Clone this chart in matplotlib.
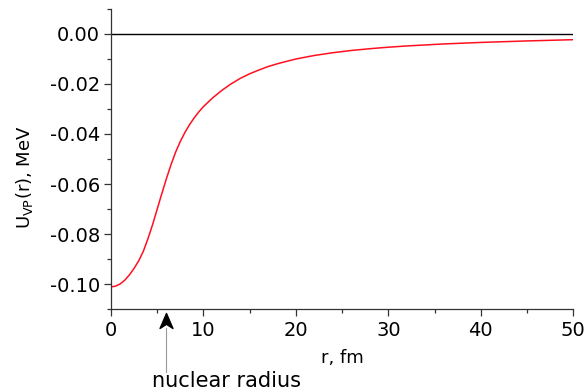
import numpy as np
import matplotlib
matplotlib.use('Agg')
import matplotlib.pyplot as plt
from matplotlib.path import Path

plt.rcParams['font.family'] = ['DejaVu Sans']
plt.rcParams['mathtext.fontset'] = 'dejavusans'

# radius (fm) and vacuum polarization potential (MeV)
r = [0, 0.5, 1, 1.5, 2, 2.5, 3, 3.5, 4, 4.5, 5, 5.5, 6, 6.5, 7, 7.5, 8, 8.5,
     9, 9.5, 10, 11, 12, 13, 14, 15, 16, 17, 18, 20, 22, 24, 26, 28, 30, 32,
     36, 40, 45, 50]
u_vp = [-0.1010, -0.1007, -0.0998, -0.0983, -0.0962, -0.0936, -0.0906,
        -0.0868, -0.0818, -0.0762, -0.0700, -0.0638, -0.0578, -0.0522,
        -0.0472, -0.0430, -0.0394, -0.0363, -0.0336, -0.0312, -0.0291,
        -0.0256, -0.0226, -0.0200, -0.0178, -0.0160, -0.0145, -0.0131,
        -0.0120, -0.0101, -0.0087, -0.0076, -0.0067, -0.0060, -0.0054,
        -0.0049, -0.0041, -0.0035, -0.0029, -0.0024]
nuclear_radius = 6.0

fig = plt.figure(figsize=(5.87, 3.92), dpi=100)
ax = fig.add_axes([0.189, 0.2105, 0.7877, 0.7676])

ax.plot([0, 50], [0, 0], color='black', lw=1.0)
ax.plot(r, u_vp, color='#ff1020', lw=1.1)

ax.set_xlim(0, 50)
ax.set_ylim(-0.11, 0.01)
ax.set_xticks([0, 10, 20, 30, 40, 50])
ax.set_xticks(np.arange(5, 50, 10), minor=True)
ax.set_yticks([-0.10, -0.08, -0.06, -0.04, -0.02, 0.00])
ax.set_yticks(np.arange(-0.11, 0.011, 0.02), minor=True)
ax.set_yticklabels(['-0.10', '-0.08', '-0.06', '-0.04', '-0.02', '0.00'])

for s in ['top', 'right']:
    ax.spines[s].set_visible(False)
for s in ['left', 'bottom']:
    ax.spines[s].set_color('#333333')
    ax.spines[s].set_linewidth(0.9)

ax.tick_params(which='major', direction='out', length=5, width=0.9,
               color='#333333', labelsize=14, pad=3)
ax.tick_params(which='minor', direction='out', length=2.8, width=0.9,
               color='#333333')

ax.set_xlabel('r, fm', fontsize=13, labelpad=7)
ax.set_ylabel(r'U$_{\rm VP}$(r), MeV', fontsize=13)
ax.yaxis.set_label_coords(-0.165, 0.44)

# nuclear radius marker below the axis
trans = ax.get_xaxis_transform()
ax.plot([nuclear_radius, nuclear_radius], [-0.06, -0.208], color='#999999',
        lw=0.8, transform=trans, clip_on=False)
head = Path([(0, 0), (-0.43, -1), (0, -0.72), (0.43, -1), (0, 0)],
            [Path.MOVETO, Path.LINETO, Path.LINETO, Path.LINETO, Path.CLOSEPOLY])
ax.plot([nuclear_radius], [-0.0116], marker=head, markersize=21.6,
        color='black', transform=trans, clip_on=False, lw=0)
ax.text(12.45, -0.2725, 'nuclear radius', fontsize=15, ha='center',
        va='bottom', transform=trans)

fig.savefig('out.png', dpi=100)
